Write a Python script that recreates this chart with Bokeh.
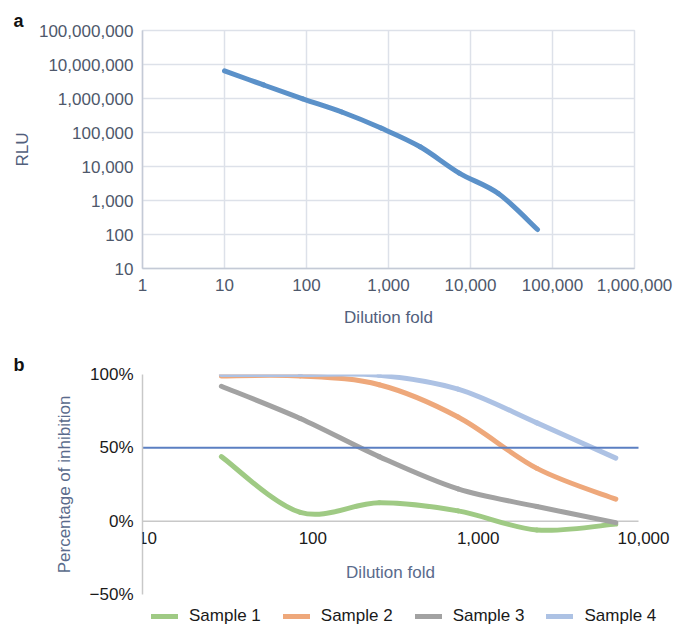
import math
from bokeh.plotting import figure
from bokeh.layouts import column
from bokeh.models import (FixedTicker, Label, LabelSet, ColumnDataSource, Legend,
                          LegendItem, NumeralTickFormatter)
from bokeh.embed import file_html
from bokeh.resources import INLINE
from bokeh.core.properties import value

# ---------------- data: panel a ----------------
rlu_dilution = [10, 30, 90, 270, 810, 2430, 7290, 21870, 65610]
rlu_values = [6.5e6, 2.5e6, 9.8e5, 4.0e5, 1.35e5, 3.8e4, 6.4e3, 1.6e3, 140]
rlu_x_ticks = [1, 10, 100, 1000, 10000, 100000, 1000000]
rlu_y_ticks = [10, 100, 1000, 10000, 100000, 1000000, 10000000, 100000000]

# ---------------- data: panel b ----------------
inhib_dilution = [30, 90, 270, 810, 2430, 7290]
sample_names = ["Sample 1", "Sample 2", "Sample 3", "Sample 4"]
sample1 = [44, 6, 12.5, 7, -6, -2]
sample2 = [99, 99, 93, 71, 36, 15]
sample3 = [92, 70, 44, 22, 10, -1]
sample4 = [100, 100, 99.5, 90, 67, 43]
samples = [sample1, sample2, sample3, sample4]
sample_colors = ["#9fca84", "#eea87b", "#a2a2a2", "#adc2e4"]
inhib_y_ticks = [-50, 0, 50, 100]
inhib_y_labels = ["\u221250%", "0%", "50%", "100%"]
inhib_x_ticks = [10, 100, 1000, 10000]
inhib_x_labels = ["10", "100", "1,000", "10,000"]
threshold = 50

FONT = "Liberation Sans"
W = 674


def smooth_segments(xs, ys, logy=False):
    """Catmull-Rom style bezier control points (like Excel's smoothed line),
    computed in log-x (and optionally log-y) space."""
    X = [math.log10(v) for v in xs]
    Y = [math.log10(v) for v in ys] if logy else list(ys)
    n = len(X)
    fy = (lambda v: 10 ** v) if logy else (lambda v: v)
    out = dict(x0=[], y0=[], x1=[], y1=[], cx0=[], cy0=[], cx1=[], cy1=[])
    for i in range(n - 1):
        ip = i - 1 if i > 0 else i
        inx = i + 2 if i + 2 < n else i + 1
        c1x = X[i] + (X[i + 1] - X[ip]) / 6
        c1y = Y[i] + (Y[i + 1] - Y[ip]) / 6
        c2x = X[i + 1] - (X[inx] - X[i]) / 6
        c2y = Y[i + 1] - (Y[inx] - Y[i]) / 6
        out["x0"].append(10 ** X[i]); out["y0"].append(fy(Y[i]))
        out["x1"].append(10 ** X[i + 1]); out["y1"].append(fy(Y[i + 1]))
        out["cx0"].append(10 ** c1x); out["cy0"].append(fy(c1y))
        out["cx1"].append(10 ** c2x); out["cy1"].append(fy(c2y))
    return ColumnDataSource(out)


def panel_letter(p, letter):
    p.title.text = letter
    p.title.align = "left"
    p.title.offset = -129
    p.title.standoff = 0
    p.title.text_font = FONT
    p.title.text_font_size = "18px"
    p.title.text_font_style = "bold"
    p.title.text_color = "#111111"


# ================= panel a =================
grid_col = "#dde1e9"
axis_col = "#c4cad6"
tick_col = "#4e586b"
label_col = "#52607c"

pa = figure(width=W, height=338, x_axis_type="log", y_axis_type="log",
            x_range=(rlu_x_ticks[0], rlu_x_ticks[-1]),
            y_range=(rlu_y_ticks[0], rlu_y_ticks[-1]),
            output_backend="svg", toolbar_location=None, title="a",
            min_border_left=142, min_border_right=40, min_border_top=30,
            min_border_bottom=70, frame_align=False)
panel_letter(pa, "a")
pa.outline_line_color = grid_col
pa.outline_line_width = 1.5
for ax, ticks in ((pa.xaxis, rlu_x_ticks), (pa.yaxis, rlu_y_ticks)):
    ax.ticker = FixedTicker(ticks=ticks)
    ax.formatter = NumeralTickFormatter(format="0,0")
    ax.major_tick_line_color = None
    ax.minor_tick_line_color = None
    ax.axis_line_color = axis_col
    ax.axis_line_width = 1.5
    ax.major_label_text_font = FONT
    ax.major_label_text_font_size = "17px"
    ax.major_label_text_color = tick_col
    ax.major_label_standoff = 3
    ax.axis_label_text_font = FONT
    ax.axis_label_text_font_size = "17px"
    ax.axis_label_text_font_style = "normal"
    ax.axis_label_text_color = label_col
pa.xaxis.major_label_standoff = 4
pa.xaxis.axis_label = "Dilution fold"
pa.xaxis.axis_label_standoff = 14
pa.yaxis.axis_label = "RLU"
pa.yaxis.axis_label_standoff = 4
pa.xgrid.ticker = FixedTicker(ticks=rlu_x_ticks)
pa.ygrid.ticker = FixedTicker(ticks=rlu_y_ticks)
for g in (pa.xgrid, pa.ygrid):
    g.grid_line_color = grid_col
    g.grid_line_width = 1.5

pa.bezier(source=smooth_segments(rlu_dilution, rlu_values, logy=True),
          x0="x0", y0="y0", x1="x1", y1="y1", cx0="cx0", cy0="cy0",
          cx1="cx1", cy1="cy1", line_color="#5b91c9", line_width=5,
          line_cap="round")

# ================= panel b =================
x_end = 10 ** (1 + 3 * 532 / 496)
pb = figure(width=W, height=266, x_axis_type="log",
            x_range=(inhib_x_ticks[0], x_end),
            y_range=(inhib_y_ticks[0], inhib_y_ticks[-1]),
            output_backend="svg", toolbar_location=None, title="b",
            min_border_left=142, min_border_right=0, min_border_top=36,
            min_border_bottom=10, frame_align=False)
panel_letter(pb, "b")
pb.outline_line_color = None
pb.xaxis.visible = False
pb.xgrid.visible = False
pb.ygrid.visible = False
ya = pb.yaxis[0]
ya.ticker = FixedTicker(ticks=inhib_y_ticks)
ya.major_label_overrides = {t: l for t, l in zip(inhib_y_ticks, inhib_y_labels)}
ya.major_tick_line_color = None
ya.minor_tick_line_color = None
ya.axis_line_color = "#c8c8c8"
ya.axis_line_width = 1.5
ya.major_label_text_font = FONT
ya.major_label_text_font_size = "17px"
ya.major_label_text_color = "#1a1a1a"
ya.major_label_standoff = 3
ya.axis_label = "Percentage of inhibition"
ya.axis_label_text_font = FONT
ya.axis_label_text_font_size = "17px"
ya.axis_label_text_font_style = "normal"
ya.axis_label_text_color = "#5a6b8c"
ya.axis_label_standoff = 13

# zero axis line
pb.segment(x0=inhib_x_ticks[0], x1=inhib_x_ticks[-1], y0=0, y1=0,
           line_color="#c8c8c8", line_width=1.5)

for vals, col in zip(samples, sample_colors):
    pb.bezier(source=smooth_segments(inhib_dilution, vals),
              x0="x0", y0="y0", x1="x1", y1="y1", cx0="cx0", cy0="cy0",
              cx1="cx1", cy1="cy1", line_color=col, line_width=5,
              line_cap="round")

pb.segment(x0=inhib_x_ticks[0], x1=inhib_x_ticks[-1], y0=threshold, y1=threshold,
           line_color="#5b7fc2", line_width=2)

pb.add_layout(LabelSet(source=ColumnDataSource(dict(x=inhib_x_ticks,
                                                    y=[0] * len(inhib_x_ticks),
                                                    text=inhib_x_labels)),
                       x="x", y="y", text="text", x_offset=5, y_offset=-17,
                       text_font=value(FONT), text_font_size="17px",
                       text_color="#1a1a1a", text_align="center",
                       text_baseline="middle"))
pb.add_layout(Label(x=math.sqrt(inhib_x_ticks[0] * inhib_x_ticks[-1]), y=0,
                    y_offset=-51, text="Dilution fold", text_font=FONT,
                    text_font_size="17px", text_color="#5a6b8c",
                    text_align="center", text_baseline="middle"))

# ================= legend strip for panel b =================
pl = figure(width=W, height=22, x_range=(0, 1), y_range=(0, 1),
            x_axis_location=None, y_axis_location=None,
            output_backend="svg", toolbar_location=None,
            min_border_left=0, min_border_right=0, min_border_top=0,
            min_border_bottom=0, frame_align=False)
pl.outline_line_color = None
pl.xgrid.visible = False
pl.ygrid.visible = False
# single-point proxies (nothing visible is drawn; they only carry the legend style)
legend_renderers = [pl.line(x=[inhib_dilution[0]], y=[vals[0]], line_color=col,
                            line_width=5, line_cap="round")
                    for vals, col in zip(samples, sample_colors)]
legend = Legend(items=[LegendItem(label=n, renderers=[r])
                       for n, r in zip(sample_names, legend_renderers)],
                orientation="horizontal", location=(151, 0))
legend.label_text_font = FONT
legend.label_text_font_size = "17px"
legend.label_text_color = "#1a1a1a"
legend.glyph_width = 27
legend.glyph_height = 18
legend.label_height = 18
legend.label_standoff = 11
legend.spacing = 22
legend.padding = 2
legend.margin = 0
legend.border_line_color = None
legend.background_fill_alpha = 0
pl.add_layout(legend)

layout = column(pa, pb, pl, spacing=0)
open("out.html", "w").write(file_html(layout, INLINE))
